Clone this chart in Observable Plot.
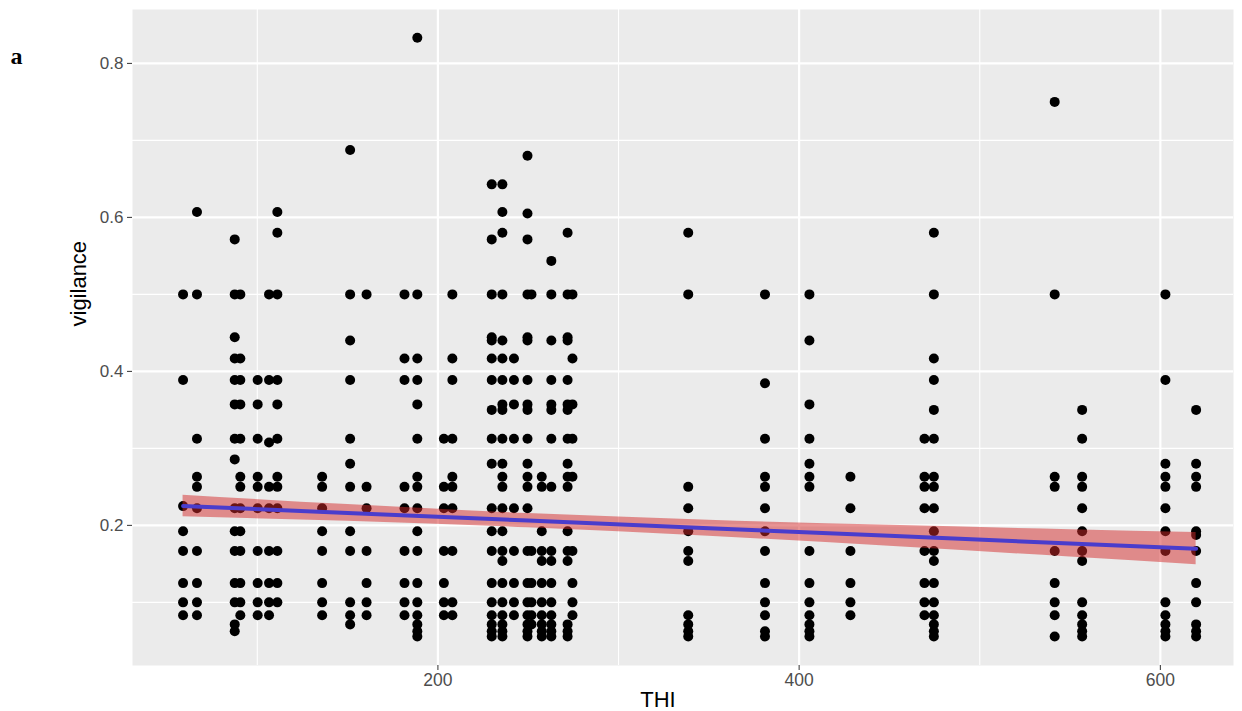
<!DOCTYPE html>
<html>
<head>
<meta charset="utf-8">
<script src="https://cdn.jsdelivr.net/npm/d3@7"></script>
<script src="https://cdn.jsdelivr.net/npm/@observablehq/plot@0.6"></script>
<style>
  html, body { margin: 0; padding: 0; background: #ffffff; }
  #chart { width: 1242px; height: 711px; }
</style>
</head>
<body>
<div id="chart"></div>
<script>
// THI value of each vertical column of points
const thi = [58.9, 66.6, 87.5, 90.6, 100.2, 106.5, 111.1, 135.9, 151.4, 160.5, 181.5, 188.6,
  203.3, 208.0, 229.8, 235.7, 242.1, 249.6, 251.8, 257.5, 262.8, 271.8, 274.5,
  338.6, 381.1, 405.7, 428.4, 469.4, 474.6, 541.5, 556.7, 602.8, 619.8];

// vigilance values found in each column (same order as thi)
const vigilance = [
  [0.5, 0.3889, 0.225, 0.1923, 0.1667, 0.125, 0.1, 0.0833],
  [0.6071, 0.5, 0.3125, 0.2632, 0.25, 0.2222, 0.1667, 0.125, 0.1, 0.0833],
  [0.5714, 0.5, 0.4444, 0.4167, 0.3889, 0.3571, 0.3125, 0.2857, 0.2222, 0.1923, 0.1667, 0.125, 0.1, 0.0714, 0.0625],
  [0.5, 0.4167, 0.3889, 0.3571, 0.3125, 0.2632, 0.25, 0.2222, 0.1923, 0.1667, 0.125, 0.1, 0.0833],
  [0.3889, 0.3571, 0.3125, 0.2632, 0.25, 0.2222, 0.1667, 0.125, 0.1, 0.0833],
  [0.5, 0.3889, 0.3077, 0.25, 0.2222, 0.1667, 0.125, 0.1, 0.0833],
  [0.6071, 0.58, 0.5, 0.3889, 0.3571, 0.3125, 0.2632, 0.25, 0.2222, 0.1667, 0.125, 0.1],
  [0.2632, 0.25, 0.2222, 0.1923, 0.1667, 0.125, 0.1, 0.0833],
  [0.6875, 0.5, 0.44, 0.3889, 0.3125, 0.28, 0.25, 0.1923, 0.1667, 0.1, 0.0833, 0.0714],
  [0.5, 0.25, 0.2222, 0.1667, 0.125, 0.1, 0.0833],
  [0.5, 0.4167, 0.3889, 0.25, 0.2222, 0.1667, 0.125, 0.1, 0.0833],
  [0.8333, 0.5, 0.4167, 0.3889, 0.3571, 0.3125, 0.2632, 0.25, 0.2222, 0.1923, 0.1667, 0.125, 0.1, 0.0833, 0.0714, 0.0625, 0.0556],
  [0.3125, 0.25, 0.2222, 0.1667, 0.125, 0.1, 0.0833],
  [0.5, 0.4167, 0.3889, 0.3125, 0.2632, 0.25, 0.2222, 0.1667, 0.1, 0.0833],
  [0.6429, 0.5714, 0.5, 0.4444, 0.44, 0.4167, 0.3889, 0.35, 0.3125, 0.28, 0.2222, 0.1923, 0.1667, 0.125, 0.1, 0.0833, 0.0714, 0.0625, 0.0556],
  [0.6429, 0.6071, 0.58, 0.5, 0.44, 0.4167, 0.3889, 0.3571, 0.35, 0.3125, 0.28, 0.2632, 0.25, 0.2222, 0.1923, 0.1667, 0.1538, 0.125, 0.1, 0.0833, 0.0714, 0.0625, 0.0556],
  [0.4167, 0.3889, 0.3571, 0.3125, 0.2222, 0.1667, 0.125, 0.1, 0.0833],
  [0.68, 0.6051, 0.5714, 0.5, 0.4444, 0.44, 0.3889, 0.3571, 0.35, 0.3125, 0.28, 0.2632, 0.25, 0.2222, 0.1667, 0.125, 0.1, 0.0833, 0.0714, 0.0625, 0.0556],
  [0.5, 0.1667, 0.125, 0.1, 0.0833, 0.0714],
  [0.2632, 0.25, 0.1923, 0.1667, 0.1538, 0.125, 0.1, 0.0833, 0.0714, 0.0625, 0.0556],
  [0.5435, 0.5, 0.44, 0.3889, 0.3571, 0.35, 0.3125, 0.25, 0.1667, 0.1538, 0.125, 0.1, 0.0833, 0.0714, 0.0625, 0.0556],
  [0.58, 0.5, 0.4444, 0.44, 0.3889, 0.3571, 0.35, 0.3125, 0.28, 0.2632, 0.25, 0.1923, 0.1667, 0.1538, 0.0714, 0.0625, 0.0556],
  [0.5, 0.4167, 0.3571, 0.3125, 0.2632, 0.1667, 0.125, 0.1, 0.0833],
  [0.58, 0.5, 0.25, 0.2222, 0.1923, 0.1667, 0.1538, 0.0833, 0.0714, 0.0625, 0.0556],
  [0.5, 0.3846, 0.3125, 0.2632, 0.25, 0.2222, 0.1923, 0.1667, 0.125, 0.1, 0.0833, 0.0625, 0.0556],
  [0.5, 0.44, 0.3571, 0.3125, 0.28, 0.2632, 0.25, 0.1667, 0.125, 0.1, 0.0833, 0.0714, 0.0625, 0.0556],
  [0.2632, 0.2222, 0.1667, 0.125, 0.1, 0.0833],
  [0.3125, 0.2632, 0.25, 0.2222, 0.1667, 0.125, 0.1, 0.0833],
  [0.58, 0.5, 0.4167, 0.3889, 0.35, 0.3125, 0.2632, 0.25, 0.2222, 0.1923, 0.1667, 0.1538, 0.125, 0.1, 0.0833, 0.0714, 0.0625, 0.0556],
  [0.75, 0.5, 0.2632, 0.25, 0.1667, 0.125, 0.1, 0.0833, 0.0556],
  [0.35, 0.3125, 0.2632, 0.25, 0.2222, 0.1923, 0.1667, 0.1538, 0.1, 0.0833, 0.0714, 0.0625, 0.0556],
  [0.5, 0.3889, 0.28, 0.2632, 0.25, 0.2222, 0.1923, 0.1667, 0.1, 0.0833, 0.0714, 0.0625, 0.0556],
  [0.35, 0.28, 0.2632, 0.25, 0.1923, 0.1875, 0.1667, 0.125, 0.1, 0.0714, 0.0625, 0.0556]
];

// fitted linear trend and its confidence band
const fitTHI   = [58.9, 150, 250, 350, 450, 550, 619.8];
const fitValue = [0.2251, 0.2161, 0.2062, 0.1963, 0.1864, 0.1766, 0.1697];
const fitLower = [0.2111, 0.2052, 0.1970, 0.1859, 0.1728, 0.1588, 0.1489];
const fitUpper = [0.2391, 0.2270, 0.2154, 0.2067, 0.2000, 0.1944, 0.1906];

// axis ticks
const xTicks = [200, 400, 600];
const xTickLabels = ["200", "400", "600"];
const xMinor = [100, 300, 500];
const yTicks = [0.2, 0.4, 0.6, 0.8];
const yTickLabels = ["0.2", "0.4", "0.6", "0.8"];
const yMinor = [0.1, 0.3, 0.5, 0.7];

const points = thi.flatMap((t, i) => vigilance[i].map(v => ({THI: t, vigilance: v})));
const fit = fitTHI.map((t, i) => ({THI: t, value: fitValue[i], lo: fitLower[i], hi: fitUpper[i]}));

const font = "'Liberation Sans', Arial, Helvetica, sans-serif";

const chart = Plot.plot({
  width: 1242,
  height: 711,
  marginLeft: 132,
  marginRight: 9,
  marginTop: 9,
  marginBottom: 46,
  style: {fontFamily: font, background: "#ffffff", overflow: "visible"},
  x: {domain: [30.9, 640.5]},
  y: {domain: [0.018, 0.870]},
  marks: [
    Plot.frame({fill: "#EBEBEB", stroke: null}),
    Plot.gridX(xMinor, {stroke: "#ffffff", strokeOpacity: 1, strokeWidth: 1.1}),
    Plot.gridY(yMinor, {stroke: "#ffffff", strokeOpacity: 1, strokeWidth: 1.1}),
    Plot.gridX(xTicks, {stroke: "#ffffff", strokeOpacity: 1, strokeWidth: 2.2}),
    Plot.gridY(yTicks, {stroke: "#ffffff", strokeOpacity: 1, strokeWidth: 2.2}),
    Plot.dot(points, {x: "THI", y: "vigilance", r: 5, fill: "#000000", stroke: null}),
    Plot.areaY(fit, {x: "THI", y1: "lo", y2: "hi", fill: "#d42a2a", fillOpacity: 0.5, curve: "monotone-x"}),
    Plot.line(fit, {x: "THI", y: "value", stroke: "#4a3dcc", strokeWidth: 4}),
    Plot.axisX(xTicks, {
      tickSize: 5, tickPadding: 3, fontSize: 17.5, stroke: "#333333", fill: "#4D4D4D",
      tickFormat: (d, i) => xTickLabels[i], label: null
    }),
    Plot.axisY(yTicks, {
      tickSize: 5, tickPadding: 4, fontSize: 17, stroke: "#333333", fill: "#4D4D4D",
      tickFormat: (d, i) => yTickLabels[i], label: null
    }),
    Plot.text(["THI"], {frameAnchor: "bottom", dx: -25, dy: 34, lineAnchor: "middle", fontSize: 22, fill: "#000000"}),
    Plot.text(["vigilance"], {frameAnchor: "left", rotate: -90, dx: -54, dy: -11, lineAnchor: "middle", fontSize: 22, fill: "#000000"}),
    Plot.text(["a"], {frameAnchor: "top-left", textAnchor: "start", lineAnchor: "bottom", dx: -122, dy: 54,
      fontSize: 24, fontWeight: "bold", fontFamily: "'Liberation Serif', 'Times New Roman', serif", fill: "#000000"})
  ]
});
document.getElementById("chart").appendChild(chart);
</script>
</body>
</html>
